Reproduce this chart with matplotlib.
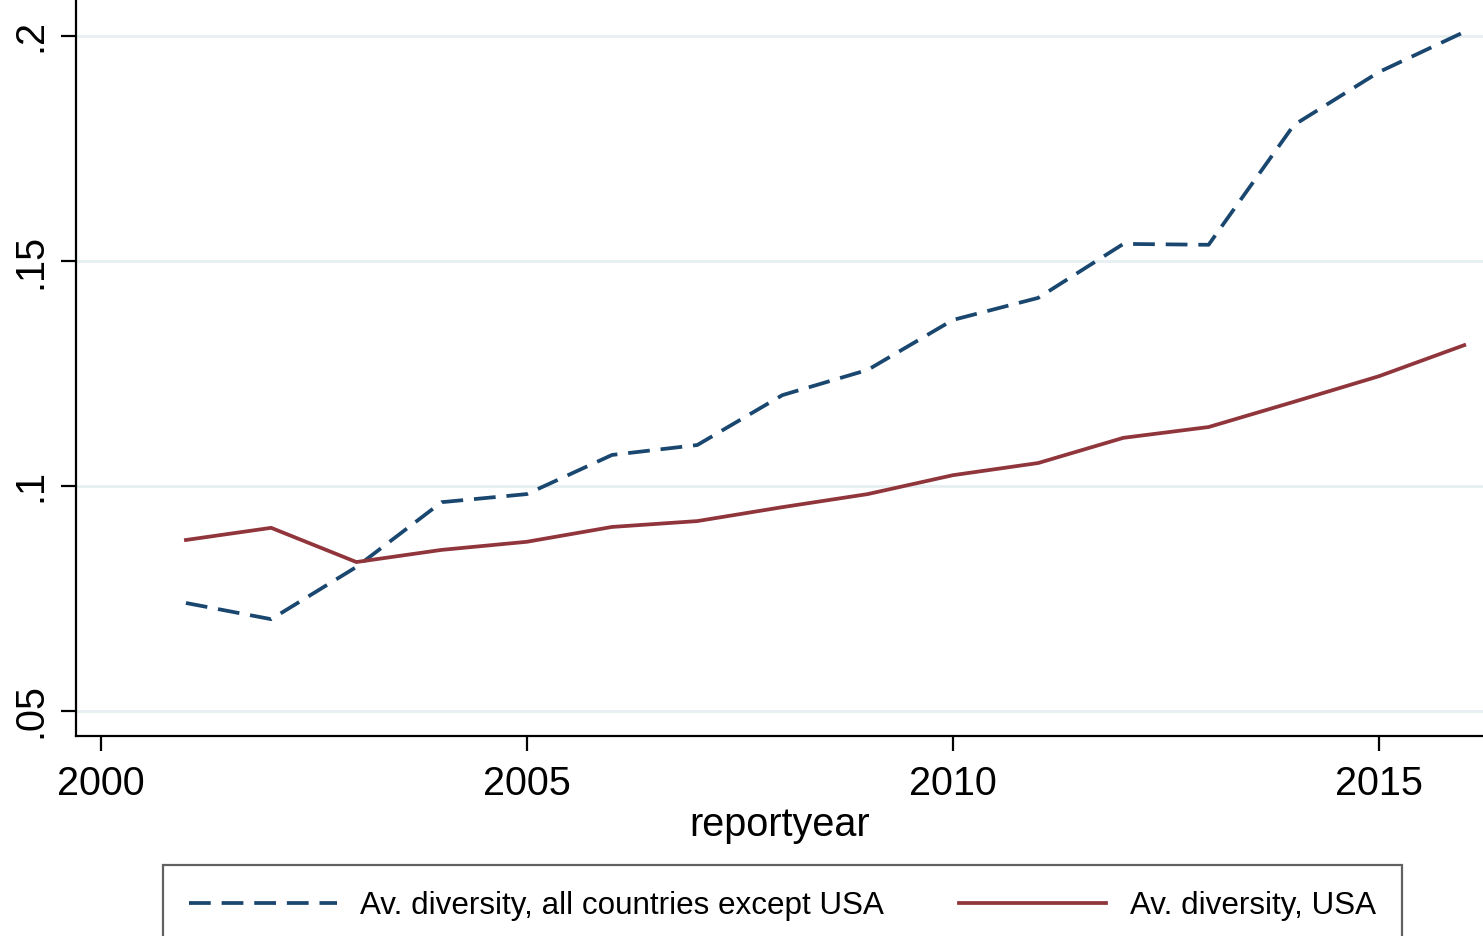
import matplotlib
matplotlib.use("Agg")
import matplotlib.pyplot as plt
from matplotlib.lines import Line2D

plt.rcParams['font.family'] = ['Liberation Sans', 'DejaVu Sans']

years = [2001, 2002, 2003, 2004, 2005, 2006, 2007, 2008,
         2009, 2010, 2011, 2012, 2013, 2014, 2015, 2016]
div_non_usa = [0.0740, 0.0704, 0.0820, 0.0964, 0.0982, 0.1069, 0.1091, 0.1202,
               0.1258, 0.1369, 0.1418, 0.1538, 0.1536, 0.1802, 0.1920, 0.2009]
div_usa = [0.0880, 0.0907, 0.0831, 0.0858, 0.0876, 0.0909, 0.0922, 0.0953,
           0.0982, 0.1024, 0.1051, 0.1107, 0.1131, 0.1187, 0.1244, 0.1313]
xticks = [2000, 2005, 2010, 2015]
yticks = [0.05, 0.10, 0.15, 0.20]
ytick_labels = [".05", ".1", ".15", ".2"]
label_non_usa = "Av. diversity, all countries except USA"
label_usa = "Av. diversity, USA"

blue = "#1a476f"
red = "#90353b"
LW = 2.7
DASH = (5.8, 2.9)

W, H = 1483, 936
fig = plt.figure(figsize=(W / 100, H / 100), dpi=100)
ax = fig.add_axes([76 / W, (H - 736) / H, (W - 76) / W, 736 / H])

ax.plot(years, div_non_usa, color=blue, lw=LW, dashes=DASH,
        label=label_non_usa, dash_capstyle='butt')
ax.plot(years, div_usa, color=red, lw=LW, label=label_usa)

ax.set_xlim(1999.71, 2016.22)
ax.set_ylim(0.04444, 0.208)
ax.set_xticks(xticks)
ax.set_xticklabels([str(x) for x in xticks])
ax.set_yticks(yticks)
ax.set_yticklabels(ytick_labels, rotation=90, va='center')
ax.grid(axis='y', color='#e6eff1', lw=2)
ax.set_axisbelow(True)

for s in ['top', 'right']:
    ax.spines[s].set_visible(False)
for s in ['left', 'bottom']:
    ax.spines[s].set_linewidth(1.6)
    ax.spines[s].set_color('black')

ax.tick_params(axis='both', direction='out', length=11, width=1.6,
               labelsize=28.5, colors='black')
ax.tick_params(axis='x', pad=10)
ax.tick_params(axis='y', pad=8)
ax.set_xlabel("reportyear", fontsize=28.5, labelpad=2)

handles = [Line2D([0], [0], color=blue, lw=LW, dashes=DASH),
           Line2D([0], [0], color=red, lw=LW)]
leg = fig.legend(handles, [label_non_usa, label_usa],
                 loc='upper left',
                 bbox_to_anchor=(163 / W, -0.2, 1239 / W, (H - 865) / H + 0.2),
                 mode='expand', ncol=2, fontsize=22.6, frameon=True,
                 fancybox=False, edgecolor='#3a3a3a', borderpad=0.83,
                 handlelength=4.7, handletextpad=0.76, borderaxespad=0)
leg.get_frame().set_linewidth(1.6)

fig.savefig("out.png", dpi=100)
